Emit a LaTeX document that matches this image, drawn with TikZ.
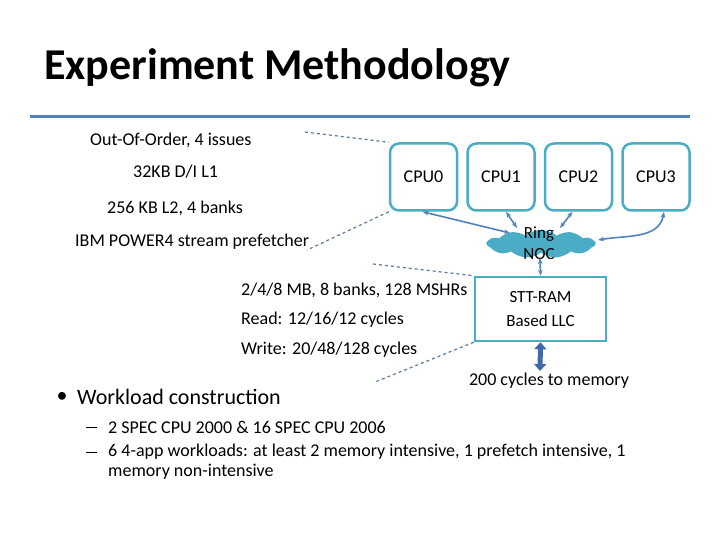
\documentclass[tikz,border=0pt]{standalone}
\usepackage{fontspec}
\setmainfont{Carlito}
\usetikzlibrary{shapes.symbols,arrows.meta}
\definecolor{teal1}{RGB}{75,172,198}
\definecolor{arr}{RGB}{79,129,189}
\definecolor{dash1}{RGB}{90,120,160}
\definecolor{memc}{RGB}{65,105,170}
\tikzset{
 cpu/.style={draw=teal1,line width=2.5pt,rounded corners=9pt,minimum width=67pt,minimum height=67pt,inner sep=0pt,font=\fontsize{18}{18}\selectfont},
 lbl/.style={anchor=west,inner sep=0pt,font=\fontsize{18}{18}\selectfont},
 dl/.style={dash1,dashed,line width=1.2pt},
 ar/.style={arr,line width=1.6pt,{Stealth[length=6pt]}-{Stealth[length=6pt]}}
}
\begin{document}
\begin{tikzpicture}[x=1pt,y=-1pt]
\useasboundingbox (0,0) rectangle (720,540);
\node[anchor=west,inner sep=0pt,font=\fontsize{44}{44}\bfseries\selectfont] (title) at (44,68) {Experiment Methodology};
\draw[arr,line width=3pt] (30,117) coordinate (l1) -- (690,117) coordinate (l2);
\node[lbl] (t1) at (90,140) {Out-Of-Order, 4 issues};
\node[lbl] (t2) at (133,172) {32KB D/I L1};
\node[lbl] (t3) at (107,208) {256 KB L2, 4 banks};
\node[lbl] (t4) at (75,242) {IBM POWER4 stream prefetcher};
\node[lbl] (t5) at (241,290) {2/4/8 MB, 8 banks, 128 MSHRs};
\node[lbl] (t6) at (241,320) {Read: 12/16/12 cycles};
\node[lbl] (t7) at (241,350) {Write: 20/48/128 cycles};
\node[cpu] (c0) at (423.5,177) {CPU0};
\node[cpu] (c1) at (501,177) {CPU1};
\node[cpu] (c2) at (578.5,177) {CPU2};
\node[cpu] (c3) at (656,177) {CPU3};
\node[cloud,cloud puffs=11,cloud puff arc=80,aspect=3.6,fill=teal1,draw=none,minimum width=108pt,minimum height=28pt,inner sep=0pt] (noc) at (541,244) {};
\node[align=center,font=\fontsize{17}{21}\selectfont,inner sep=0pt] (noct) at (539,243) {Ring\\NOC};
\node[draw=teal1,line width=2.5pt,minimum width=131pt,minimum height=64pt,align=center,font=\fontsize{17}{24}\selectfont,inner sep=0pt] (llc) at (540.5,309) {STT-RAM\\Based LLC};
\node[inner sep=0pt,font=\fontsize{18}{18}\selectfont] (mem) at (549,381) {200 cycles to memory};
\coordinate (n0) at (510,233);
\coordinate (n1) at (517,228);
\coordinate (n2) at (560,228);
\coordinate (n3) at (598,240);
\coordinate (nb) at (540,258);
\draw[ar] ([xshift=-1pt]c0.south) -- (n0);
\draw[ar] ([xshift=5pt]c1.south) -- (n1);
\draw[ar] ([xshift=-6pt]c2.south) -- (n2);
\draw[ar] ([xshift=8pt]c3.south) to[out=-100,in=10] (n3);
\draw[ar] (nb) -- (llc.north);
\coordinate (m1) at (540,371);
\draw[memc,line width=5pt,{Triangle[length=7pt,width=12pt]}-{Triangle[length=7pt,width=12pt]}] (llc.south) -- (m1);
\coordinate (d1) at (305,132); \draw[dl] (d1) -- (c0.north west);
\coordinate (d2) at (307,250); \draw[dl] (c0.south west) -- (d2);
\coordinate (d3) at (373,264); \draw[dl] (d3) -- (llc.north west);
\coordinate (d4) at (375,382); \draw[dl] (llc.south west) -- (d4);
\node[inner sep=0pt,font=\fontsize{22}{22}\selectfont] (b1) at (62,397) {•};
\node[lbl,font=\fontsize{22}{22}\selectfont] (w) at (77,397) {Workload construction};
\draw[line width=1pt] (86,427) coordinate (da1a) -- (97,427) coordinate (da1b);
\node[lbl] (w1) at (108,427) {2 SPEC CPU 2000 \& 16 SPEC CPU 2006};
\draw[line width=1pt] (86,452) coordinate (da2a) -- (97,452) coordinate (da2b);
\node[lbl] (w2) at (108,452) {6 4-app workloads: at least 2 memory intensive, 1 prefetch intensive, 1};
\node[lbl] (w3) at (108,472) {memory non-intensive};
\end{tikzpicture}
\end{document}
